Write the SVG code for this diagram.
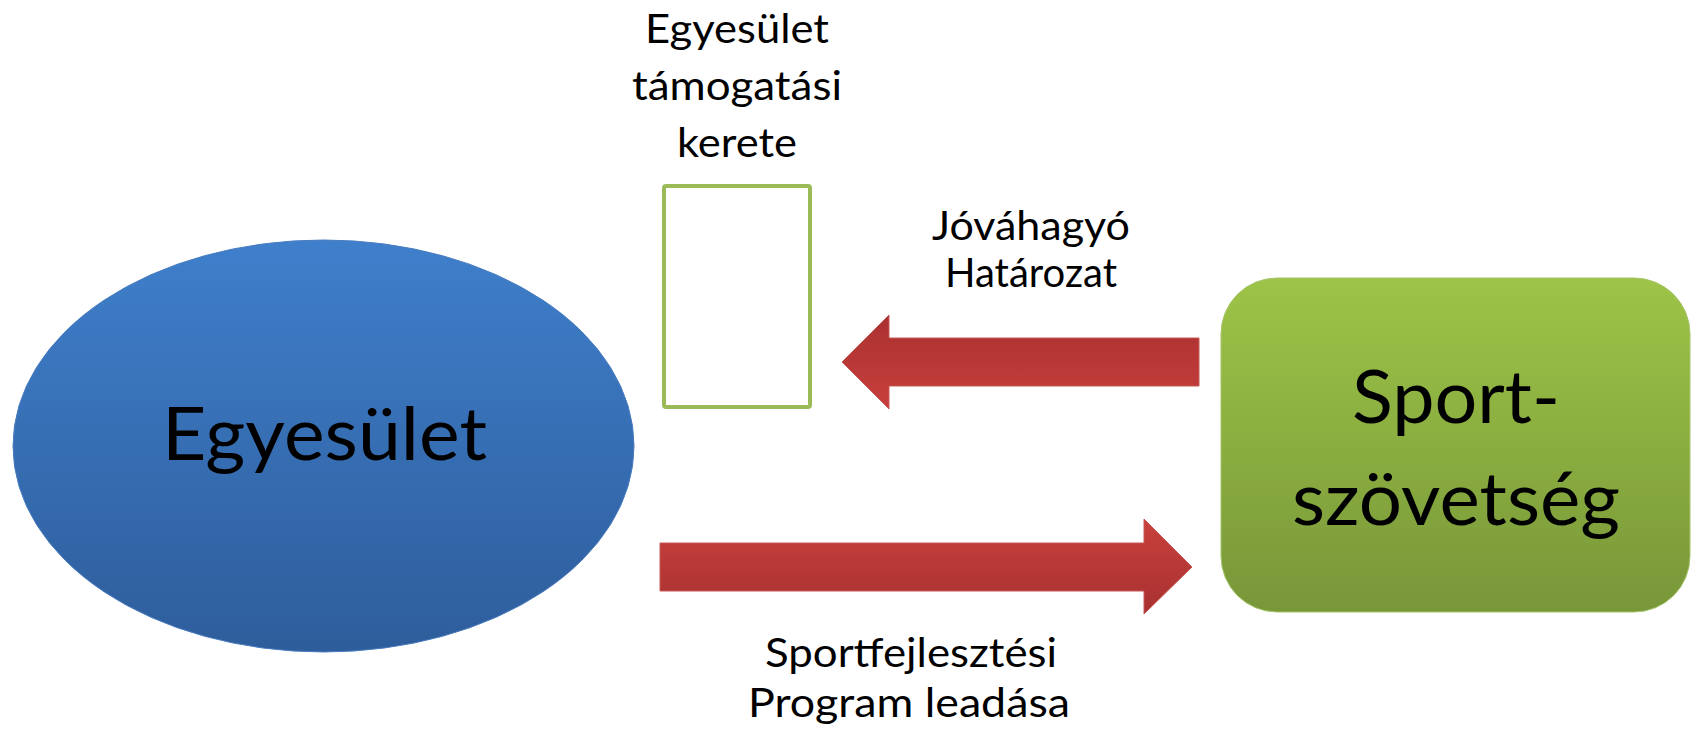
<svg xmlns="http://www.w3.org/2000/svg" width="1696" height="734" viewBox="0 0 1696 734">
  <defs>
    <linearGradient id="gBlue" x1="0" y1="0" x2="0" y2="1">
      <stop offset="0" stop-color="#3F7FCB"/>
      <stop offset="1" stop-color="#2E5D9B"/>
    </linearGradient>
    <linearGradient id="gGreen" x1="0" y1="0" x2="0" y2="1">
      <stop offset="0" stop-color="#9DC447"/>
      <stop offset="1" stop-color="#789739"/>
    </linearGradient>
    <linearGradient id="gRedUp" x1="0" y1="0" x2="0" y2="1">
      <stop offset="0" stop-color="#A93130"/>
      <stop offset="1" stop-color="#C83F3C"/>
    </linearGradient>
    <linearGradient id="gRedDown" x1="0" y1="0" x2="0" y2="1">
      <stop offset="0" stop-color="#C8403C"/>
      <stop offset="1" stop-color="#A83130"/>
    </linearGradient>
  </defs>
  <style>
    text { font-family: Lato, "Open Sans", "Liberation Sans", sans-serif; fill: #000; text-anchor: middle; }
    .big { font-size: 74px; }
    .label { font-size: 41px; }
    .arrow { stroke: #C65A57; stroke-width: 1; }
  </style>
  <rect width="1696" height="734" fill="#FFFFFF"/>

  <g id="connectors">
    <polygon class="arrow" fill="url(#gRedUp)" points="842,362 889,315 889,338 1199,338 1199,386 889,386 889,409"/>
    <polygon class="arrow" fill="url(#gRedDown)" points="660,543 1144,543 1144,519 1192,567 1144,614 1144,591 660,591"/>
  </g>

  <g id="egyesulet">
    <ellipse cx="323.5" cy="446" rx="310.5" ry="206" fill="url(#gBlue)" stroke="#4A7CC0" stroke-width="1"/>
    <text class="big" x="324.5" y="460" textLength="325" lengthAdjust="spacingAndGlyphs">Egyesület</text>
  </g>

  <g id="sportszovetseg">
    <rect x="1221" y="278" width="469" height="334" rx="56" ry="56" fill="url(#gGreen)" stroke="#A6C46A" stroke-width="1"/>
    <text class="big" x="1456" y="423" textLength="208" lengthAdjust="spacingAndGlyphs">Sport-</text>
    <text class="big" x="1456" y="525" textLength="328" lengthAdjust="spacingAndGlyphs">szövetség</text>
  </g>

  <g id="keret">
    <rect x="664" y="186" width="146" height="221" rx="2" fill="#FFFFFF" stroke="#9BBB59" stroke-width="4"/>
  </g>

  <g id="label-keret">
    <text class="label" x="737" y="43" textLength="184" lengthAdjust="spacingAndGlyphs">Egyesület</text>
    <text class="label" x="737" y="100" textLength="210" lengthAdjust="spacingAndGlyphs">támogatási</text>
    <text class="label" x="737" y="157" textLength="120" lengthAdjust="spacingAndGlyphs">kerete</text>
  </g>

  <g id="label-jovahagyo">
    <text class="label" x="1031" y="240" textLength="198" lengthAdjust="spacingAndGlyphs">Jóváhagyó</text>
    <text class="label" x="1031" y="287" textLength="172" lengthAdjust="spacingAndGlyphs">Határozat</text>
  </g>

  <g id="label-program">
    <text class="label" x="911" y="667" textLength="292" lengthAdjust="spacingAndGlyphs">Sportfejlesztési</text>
    <text class="label" x="909" y="717" textLength="322" lengthAdjust="spacingAndGlyphs">Program leadása</text>
  </g>
</svg>
